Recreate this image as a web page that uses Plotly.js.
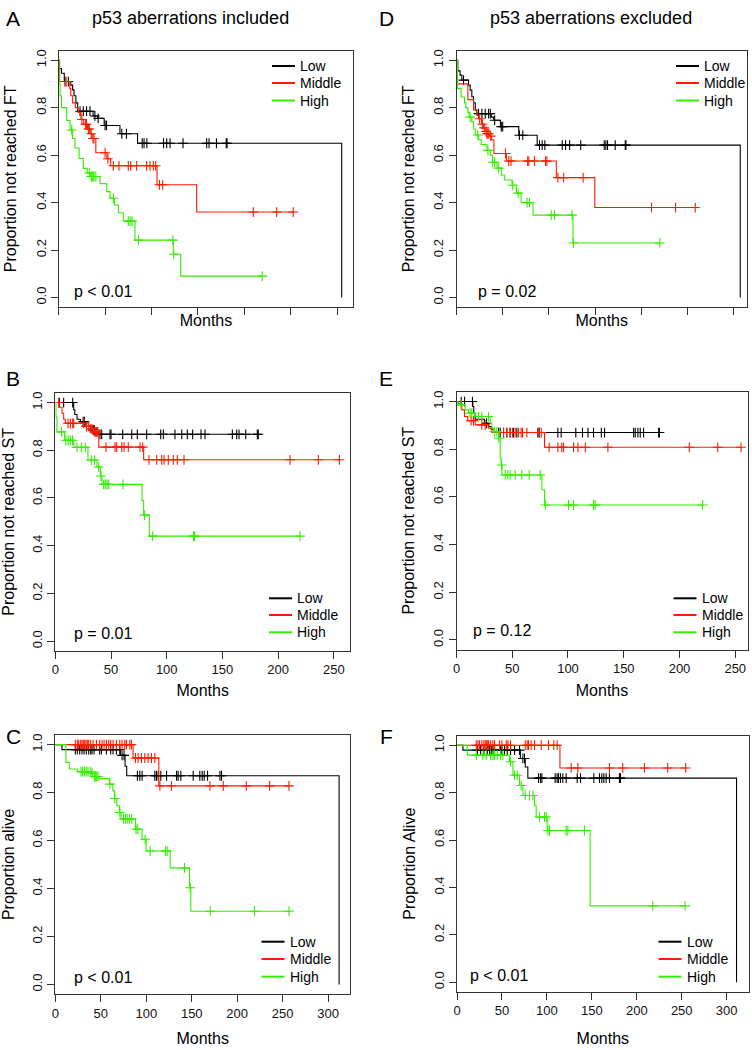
<!DOCTYPE html>
<html><head><meta charset="utf-8">
<script src="https://cdn.plot.ly/plotly-3.0.1.min.js"></script>
<style>body{margin:0;background:#fff}#chart{width:752px;height:1050px}</style>
</head><body><div id="chart"></div>
<script>
// ---------- DATA (Kaplan-Meier step points: t = event times, s = survival after event; c = censor times) ----------
const groups = ['Low', 'Middle', 'High'];
const groupColors = ['#000000', '#ff1a00', '#33ee00'];

// Panel A: FT, p53 aberrations included
const A_low_t  = [0, 0.5, 3, 6, 13, 15, 16.5, 18.5, 20.5, 37, 42, 49, 66, 85, 305];
const A_low_s  = [1, 0.965, 0.945, 0.91, 0.895, 0.875, 0.85, 0.82, 0.785, 0.765, 0.755, 0.725, 0.69, 0.65, 0];
const A_low_c  = [6.8, 10.4, 23, 26.5, 30, 33.7, 39, 42.5, 50, 51.5, 68, 73, 90, 92, 95, 113, 116.4, 120, 134, 159.5, 162, 170, 180.5, 181.5];
const A_mid_t  = [0, 1, 12, 13, 15, 18, 21, 24, 27, 31, 34, 36, 40, 52, 56, 106, 148.7];
const A_mid_s  = [1, 0.91, 0.88, 0.85, 0.82, 0.80, 0.78, 0.75, 0.73, 0.71, 0.69, 0.67, 0.61, 0.585, 0.555, 0.475, 0.36];
const A_mid_c  = [8, 25, 29, 30, 32, 33, 35, 37, 38, 50, 53, 58.9, 65, 75, 77.6, 84, 94.8, 98.4, 102, 104.5, 108.6, 112, 209.7, 234.9, 252.8];
const A_high_t = [0, 0.5, 1.5, 3, 8.6, 12.2, 15, 17.5, 22, 26.5, 30.8, 34, 44.5, 51.7, 55.3, 60, 64.3, 69.6, 82.2, 123.5, 131.5];
const A_high_s = [1, 0.9, 0.85, 0.80, 0.746, 0.706, 0.67, 0.63, 0.586, 0.544, 0.525, 0.51, 0.48, 0.446, 0.418, 0.39, 0.357, 0.322, 0.242, 0.182, 0.09];
const A_high_c = [14, 33, 35, 36, 37, 38, 40, 59, 75, 77, 79, 86, 123, 124, 219.4];

// Panel D: FT, p53 aberrations excluded
const D_low_t  = [0, 1.4, 3.9, 5.8, 13, 14.8, 16.6, 18.4, 20.3, 22, 37.6, 40.2, 47.5, 67.4, 87.3, 307];
const D_low_s  = [1, 0.955, 0.937, 0.916, 0.895, 0.874, 0.846, 0.82, 0.79, 0.775, 0.76, 0.747, 0.72, 0.684, 0.642, 0];
const D_low_c  = [7.6, 23.9, 27.5, 31.1, 34.7, 36.6, 41.3, 48.5, 50, 68, 71.7, 89.8, 92.7, 95.6, 114.4, 118, 122.4, 134.4, 159.8, 161.6, 163.4, 171.7, 182.6, 183.3];
const D_mid_t  = [0, 1, 12.3, 18.5, 22, 24, 27, 29, 31, 33, 36, 38, 40.5, 54, 108, 149.6];
const D_mid_s  = [1, 0.9, 0.834, 0.79, 0.767, 0.753, 0.73, 0.715, 0.70, 0.69, 0.68, 0.665, 0.607, 0.575, 0.505, 0.379];
const D_mid_c  = [25, 28, 30, 32, 33, 34, 35, 37, 53, 56.5, 59, 77, 78.3, 84.3, 96.3, 97.8, 109.7, 115.9, 137, 211, 237, 258.3];
const D_high_t = [0, 1, 5, 8.7, 10.1, 12.3, 13.7, 16.6, 18.4, 20.3, 23.9, 26.8, 32.9, 36.6, 39, 43.8, 48.5, 52.1, 60.1, 64.8, 69.9, 82.9, 126];
const D_high_s = [1, 0.88, 0.845, 0.82, 0.80, 0.78, 0.76, 0.74, 0.71, 0.685, 0.665, 0.645, 0.62, 0.60, 0.57, 0.545, 0.515, 0.495, 0.473, 0.44, 0.40, 0.347, 0.23];
const D_high_c = [14.8, 23.1, 34, 39.1, 41.3, 45.6, 60.8, 66.6, 76.4, 78.9, 102.5, 106, 125, 126.5, 220];

// Panel B: ST, p53 aberrations included
const B_low_t  = [0, 16.5, 17.5, 19.5, 22.5, 27, 33, 36];
const B_low_s  = [1, 0.97, 0.95, 0.93, 0.92, 0.90, 0.885, 0.867];
const B_low_c  = [3.6, 7.5, 15.6, 25, 26, 28, 34, 35, 40.1, 41.6, 49.1, 50, 60.5, 68.6, 73.6, 82, 94.6, 97, 107.4, 113.5, 118.5, 123.3, 130.8, 134.4, 158.9, 162.8, 164.9, 170.9, 181.3, 182.2];
const B_mid_t  = [0, 3.6, 6, 7.5, 9, 27, 31.4, 34.4, 39, 79.3];
const B_mid_s  = [1, 0.98, 0.955, 0.93, 0.913, 0.90, 0.89, 0.877, 0.813, 0.76];
const B_mid_c  = [3, 11.4, 13.5, 15.6, 16.5, 25.5, 28, 30, 32, 33, 35, 36, 37, 38, 45.5, 53.6, 55.1, 59.6, 61.7, 65.5, 76, 78.5, 84.1, 91, 95.5, 97.6, 101.4, 105.9, 109.5, 115.5, 210.7, 236.1, 255];
const B_high_t = [0, 0.6, 1.5, 8.4, 16.5, 29.3, 37.4, 40.4, 41.9, 77.8, 79.3, 84.4];
const B_high_s = [1, 0.94, 0.877, 0.842, 0.812, 0.759, 0.73, 0.692, 0.657, 0.59, 0.528, 0.44];
const B_high_c = [5.6, 9.5, 11.6, 13.4, 15.5, 19.5, 23.4, 27, 32.3, 35.3, 38.9, 41, 43.4, 44.9, 46.4, 47.9, 60.8, 80.2, 87.4, 124, 125, 219.6];

// Panel E: ST, p53 aberrations excluded
const E_low_t  = [0, 14.6, 15.5, 16.7, 25, 28.7, 31.1, 34.1];
const E_low_s  = [1, 0.979, 0.951, 0.926, 0.909, 0.895, 0.884, 0.87];
const E_low_c  = [4.2, 7.2, 14.3, 27, 37.7, 39.2, 42.2, 45.1, 48.1, 51.1, 54.1, 73, 74.2, 90.9, 93.9, 107, 113, 117.9, 122.9, 129.9, 132.8, 158.9, 160.3, 162.7, 164.8, 167.8, 181.3, 182];
const E_mid_t  = [0, 1.8, 4.8, 7.2, 10.1, 16.7, 28.7, 31.7, 79];
const E_mid_s  = [1, 0.99, 0.965, 0.937, 0.92, 0.902, 0.888, 0.87, 0.808];
const E_mid_c  = [13.1, 15.2, 22.7, 25.7, 42.2, 45.1, 48.1, 50.2, 52.6, 55.6, 58, 59.2, 63.1, 74.2, 76, 83.1, 90.9, 94.4, 96, 105, 108.9, 115.5, 135.8, 208.8, 234.3, 255.2];
const E_high_t = [0, 1.2, 7.7, 10.7, 16.7, 30.2, 31.7, 33.2, 37.7, 39.2, 40.1, 40.7, 76.6, 79];
const E_high_s = [1, 0.986, 0.965, 0.951, 0.937, 0.909, 0.888, 0.874, 0.846, 0.762, 0.734, 0.692, 0.63, 0.566];
const E_high_c = [4, 12.2, 13.7, 19.7, 22.7, 28.7, 34.1, 36.2, 38, 40.5, 43.7, 46, 48.1, 52.6, 58.6, 65.2, 75.1, 79.6, 100.5, 105, 122.9, 124.4, 220.8];

// Panel C: alive, p53 aberrations included
const C_low_t  = [0, 7.3, 71.5, 76.7, 78.5, 312];
const C_low_s  = [1, 0.979, 0.955, 0.91, 0.87, 0];
const C_low_c  = [22, 24.2, 26.8, 29.4, 31.6, 34.1, 36.7, 38.9, 40.4, 42.6, 48.8, 50.7, 56.2, 60.9, 63.5, 67.2, 70.9, 73.4, 75.6, 90.3, 92.9, 95.4, 109.4, 111.2, 113.1, 116, 122.3, 133.3, 135.1, 138, 151.6, 158.9, 161.5, 163.7, 167.4, 181, 182.8];
const C_mid_t  = [0, 85.5, 113.8];
const C_mid_s  = [1, 0.944, 0.828];
const C_mid_c  = [22, 24.2, 25.7, 27.9, 29.4, 30.8, 32.3, 33.8, 35.2, 36.7, 38.9, 41.5, 45.2, 48.8, 51.4, 53.6, 56.2, 58.7, 60.9, 63.5, 67.2, 70.9, 73.4, 76.4, 78.2, 81.9, 83.7, 88.1, 91, 94.7, 98.4, 102, 105.7, 109.4, 115, 127.7, 170, 184.7, 210, 235.6, 256.9];
const C_high_t = [0, 11.7, 15.4, 24.6, 39.3, 41.1, 48.5, 59.4, 63.2, 65, 67.6, 70.5, 72.3, 88.1, 95.4, 99.9, 126.3, 147.5, 149];
const C_high_s = [1, 0.926, 0.898, 0.887, 0.88, 0.867, 0.858, 0.835, 0.808, 0.775, 0.745, 0.717, 0.69, 0.647, 0.605, 0.556, 0.486, 0.403, 0.305];
const C_high_c = [28.3, 30, 32, 34, 36, 39, 40.4, 42.9, 44, 45.5, 47, 60, 65.5, 71, 74.9, 77, 79, 81.5, 84, 88.8, 90.7, 98.7, 104.3, 121.2, 123, 142.1, 148.3, 170.3, 219.2, 257];

// Panel F: alive, p53 aberrations excluded
const F_low_t  = [0, 6.6, 70.5, 75.9, 78.8, 311];
const F_low_s  = [1, 0.979, 0.944, 0.908, 0.861, 0];
const F_low_c  = [22.6, 26.3, 29.9, 33.7, 36.3, 38.1, 40, 41.8, 48.5, 49.9, 52.9, 55.9, 59.6, 64, 69.6, 73.3, 75.1, 90.7, 92.9, 94.4, 109.2, 111.4, 112.9, 115.1, 117.7, 121.4, 133.7, 137.4, 152.2, 158.5, 161.1, 163.3, 165.9, 169.6, 180.7, 181.8];
const F_mid_t  = [0, 114.5];
const F_mid_s  = [1, 0.904];
const F_mid_c  = [21.4, 23.3, 25.1, 27.7, 29.9, 31.4, 32.6, 33.7, 35.1, 37.4, 40, 41.8, 47.4, 49.9, 54.8, 56.6, 59.6, 75.9, 78.1, 79.6, 82.5, 86.3, 93.7, 101.8, 107.7, 111.4, 127, 134.4, 169.6, 184.4, 208.5, 234.4, 254.4];
const F_high_t = [0, 11.4, 58.5, 62.2, 69.6, 73.3, 86.3, 88.1, 100.3, 148.1];
const F_high_s = [1, 0.958, 0.93, 0.873, 0.83, 0.788, 0.746, 0.697, 0.64, 0.322];
const F_high_c = [21.4, 28.9, 32.6, 37.4, 40, 41.8, 44.8, 48.5, 51.1, 59.6, 64, 67, 71.4, 75.9, 80.7, 84.4, 91.8, 97.4, 99.2, 101.1, 102.9, 121.4, 123.3, 141.8, 217.7, 253.7];

// text
const panelLetters = ['A', 'D', 'B', 'E', 'C', 'F'];
const yTitles = ['Proportion not reached FT', 'Proportion not reached FT', 'Proportion not reached ST', 'Proportion not reached ST', 'Proportion alive', 'Proportion Alive'];
const pTexts = ['p < 0.01', 'p = 0.02', 'p = 0.01', 'p = 0.12', 'p < 0.01', 'p < 0.01'];
const columnTitles = ['p53 aberrations included', 'p53 aberrations excluded'];
const xTitle = 'Months';
const yTickVals = [0, 0.2, 0.4, 0.6, 0.8, 1.0];
const yTickText = ['0.0', '0.2', '0.4', '0.6', '0.8', '1.0'];
const xTickVals300 = [0, 50, 100, 150, 200, 250, 300];
const xTickVals250 = [0, 50, 100, 150, 200, 250];

// ---------- LAYOUT GEOMETRY (pixels in a 752 x 1050 page) ----------
const W = 752, H = 1050;
const px = v => v / W, py = v => 1 - v / H;
const panels = [
  {series: [[A_low_t, A_low_s, A_low_c], [A_mid_t, A_mid_s, A_mid_c], [A_high_t, A_high_s, A_high_c]],
   box: [58.7, 353.3, 50.7, 307], xr: [0, 317.5], xt: xTickVals300, showXT: false, xso: 0,
   leg: [298, [66, 83, 100.5]], p: [71.5, 291], letter: [13, 19]},
  {series: [[D_low_t, D_low_s, D_low_c], [D_mid_t, D_mid_s, D_mid_c], [D_high_t, D_high_s, D_high_c]],
   box: [456.5, 747, 50.7, 307], xr: [0, 314.3], xt: xTickVals300, showXT: false, xso: 0,
   leg: [702, [66, 83, 100.5]], p: [476, 291], letter: [386, 19]},
  {series: [[B_low_t, B_low_s, B_low_c], [B_mid_t, B_mid_s, B_mid_c], [B_high_t, B_high_s, B_high_c]],
   box: [55.3, 350, 393, 650.7], xr: [0, 264.5], xt: xTickVals250, showXT: true, xso: 8,
   leg: [295, [598.3, 615, 632.3]], p: [71.5, 633], letter: [13, 378]},
  {series: [[E_low_t, E_low_s, E_low_c], [E_mid_t, E_mid_s, E_mid_c], [E_high_t, E_high_s, E_high_c]],
   box: [456.5, 747.5, 392, 649.5], xr: [0, 261], xt: xTickVals250, showXT: true, xso: 9,
   leg: [699.5, [598.3, 615, 632.3]], p: [471, 630], letter: [386, 378]},
  {series: [[C_low_t, C_low_s, C_low_c], [C_mid_t, C_mid_s, C_mid_c], [C_high_t, C_high_s, C_high_c]],
   box: [55.3, 350, 735, 994], xr: [0, 324], xt: xTickVals300, showXT: true, xso: 13,
   leg: [287.5, [941.7, 959, 976.7]], p: [71.5, 977], letter: [13, 736]},
  {series: [[F_low_t, F_low_s, F_low_c], [F_mid_t, F_mid_s, F_mid_c], [F_high_t, F_high_s, F_high_c]],
   box: [457, 748.7, 735.7, 991.7], xr: [0, 324.5], xt: xTickVals300, showXT: true, xso: 15,
   leg: [684.5, [941.7, 959, 976.7]], p: [468, 975], letter: [386, 736]}
];

function stepAt(t, s, x) {
  let v = s[0];
  for (let i = 0; i < t.length; i++) { if (t[i] <= x) v = s[i]; else break; }
  return v;
}

const FONT = 'Liberation Sans, Arial, Helvetica, sans-serif';
const traces = [];
const layout = {
  width: W, height: H, margin: {l: 0, r: 0, t: 0, b: 0},
  paper_bgcolor: '#fff', plot_bgcolor: '#fff',
  font: {family: FONT, color: '#000'},
  showlegend: false, annotations: [], shapes: []
};

panels.forEach((P, k) => {
  const n = k + 1;
  const xa = n === 1 ? 'x' : 'x' + n, ya = n === 1 ? 'y' : 'y' + n;
  P.series.forEach(([t, s, c], g) => {
    const last = s[s.length - 1];
    const xs = t.slice(), ys = s.slice();
    const tEnd = Math.max(t[t.length - 1], ...c);
    if (last > 0 && tEnd > t[t.length - 1]) { xs.push(tEnd); ys.push(last); }
    traces.push({type: 'scatter', mode: 'lines', x: xs, y: ys, xaxis: xa, yaxis: ya,
      name: groups[g], line: {color: groupColors[g], width: 1.1, shape: 'hv'}, hoverinfo: 'skip'});
    traces.push({type: 'scatter', mode: 'markers', x: c, y: c.map(v => stepAt(t, s, v)),
      xaxis: xa, yaxis: ya, name: groups[g] + ' (censored)', hoverinfo: 'skip',
      marker: {symbol: 'cross-thin', size: 7, line: {color: groupColors[g], width: 1.1}, color: groupColors[g]}});
    // legend entry drawn in the panel corner
    const ly = P.leg[1][g];
    layout.shapes.push({type: 'line', xref: 'paper', yref: 'paper', x0: px(P.leg[0] - 26), x1: px(P.leg[0] - 3),
      y0: py(ly), y1: py(ly), line: {color: groupColors[g], width: 2}});
    layout.annotations.push({xref: 'paper', yref: 'paper', x: px(P.leg[0]), y: py(ly), xanchor: 'left', yanchor: 'middle',
      text: groups[g], showarrow: false, font: {size: 14, family: FONT}});
  });
  const axCommon = {showline: true, mirror: true, linecolor: '#333', linewidth: 1, showgrid: false, zeroline: false,
    ticks: 'outside', ticklen: 7, tickcolor: '#333', tickwidth: 1, tickfont: {size: 13, family: FONT, color: '#111'}};
  layout[n === 1 ? 'xaxis' : 'xaxis' + n] = Object.assign({}, axCommon, {
    domain: [px(P.box[0]), px(P.box[1])], range: P.xr, anchor: ya, tickvals: P.xt, showticklabels: P.showXT,
    title: {text: xTitle, font: {size: 16, family: FONT}, standoff: P.xso}});
  layout[n === 1 ? 'yaxis' : 'yaxis' + n] = Object.assign({}, axCommon, {
    domain: [py(P.box[3]), py(P.box[2])], range: [-0.04, 1.04], anchor: xa,
    tickvals: yTickVals, ticktext: yTickText, tickangle: -90,
    title: {text: yTitles[k], font: {size: 16, family: FONT}, standoff: 12}});
  layout.annotations.push({xref: 'paper', yref: 'paper', x: px(P.p[0]), y: py(P.p[1]), xanchor: 'left', yanchor: 'middle',
    text: pTexts[k], showarrow: false, font: {size: 16, family: FONT}});
  layout.annotations.push({xref: 'paper', yref: 'paper', x: px(P.letter[0]), y: py(P.letter[1]), xanchor: 'center', yanchor: 'middle',
    text: panelLetters[k], showarrow: false, font: {size: 21, family: FONT}});
});
layout.annotations.push({xref: 'paper', yref: 'paper', x: px(190), y: py(18), xanchor: 'center', yanchor: 'middle',
  text: columnTitles[0], showarrow: false, font: {size: 18, family: FONT}});
layout.annotations.push({xref: 'paper', yref: 'paper', x: px(591), y: py(18), xanchor: 'center', yanchor: 'middle',
  text: columnTitles[1], showarrow: false, font: {size: 18, family: FONT}});

Plotly.newPlot('chart', traces, layout, {staticPlot: true, displayModeBar: false});
</script></body></html>
